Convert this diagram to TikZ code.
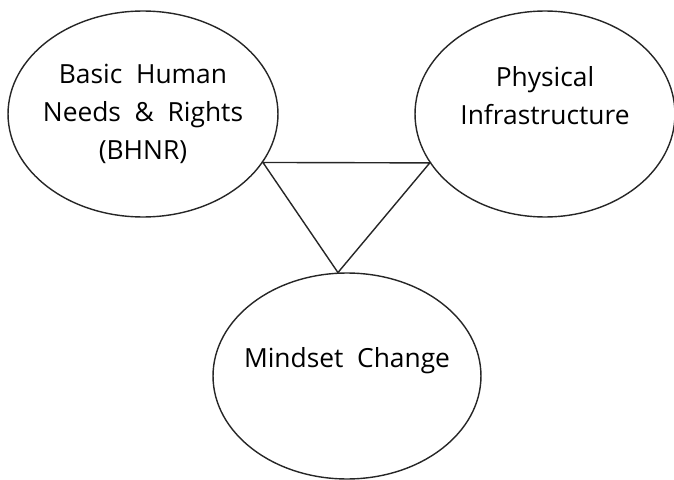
\documentclass[tikz,border=0pt]{standalone}
\usepackage{fontspec}
\setmainfont{Open Sans}
\usetikzlibrary{shapes.geometric}
\tikzset{pole/.style = {ellipse, draw = black!85, line width = 0.8pt,
                        inner xsep = -1cm, inner ysep = 0pt, align = center,
                        font = \fontsize{15}{21.5}\selectfont,
                        minimum width = #1, minimum height = 4.12cm},
         pole/.default = 5.4cm,
         lien/.style = {draw = black!85, line width = 0.8pt}
        }

\begin{document}
\begin{tikzpicture}[x=0.02cm, y=-0.02cm]
  \useasboundingbox (0,0) rectangle (674,480);
  \node[pole] (bhnr) at (143,114)
        {Basic\ \ Human\\Needs \ \&\ \ Rights\\(BHNR)};
  \node[pole = 5.2cm] (infra) at (545,114)
        {Physical\\Infrastructure\\~};
  \node[pole = 5.36cm] (mind) at (347,376)
        {Mindset\ \ Change\\~};
  % triangle between the three poles
  \draw[lien] (bhnr.-22) -- (infra.-157) -- (mind.95) -- cycle;
\end{tikzpicture}
\end{document}
